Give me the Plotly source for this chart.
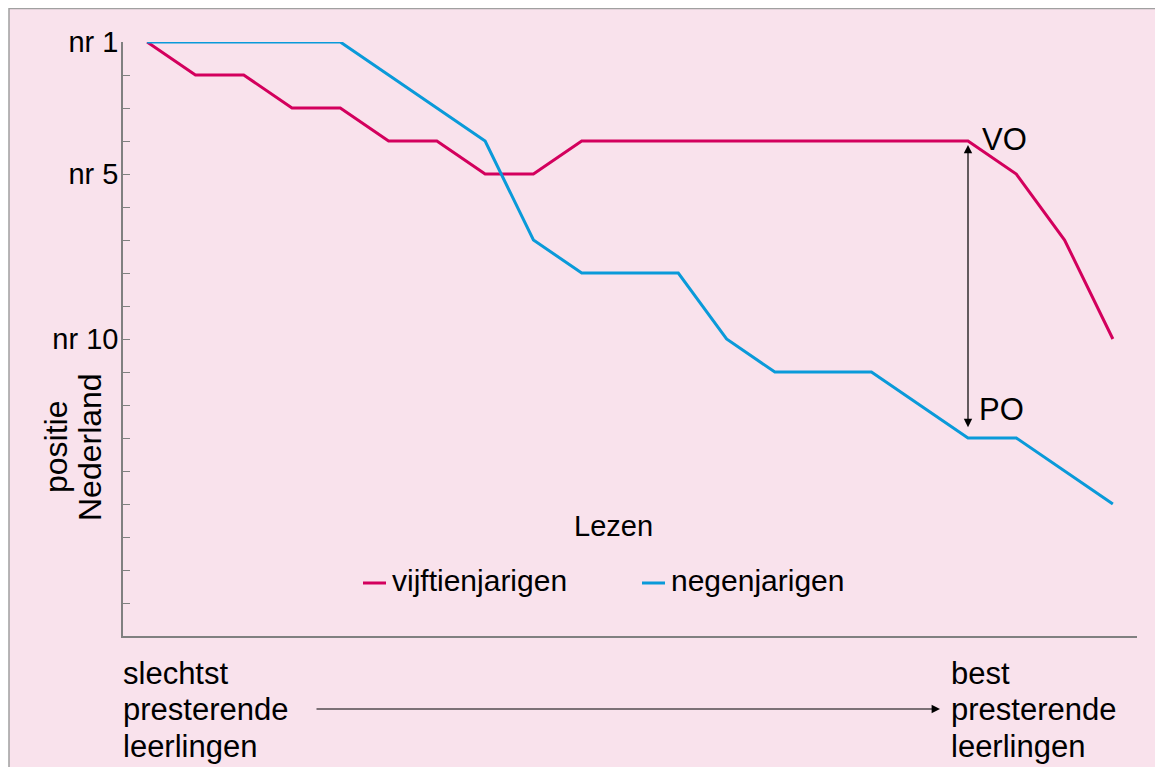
import plotly.graph_objects as go

# ---- data ----
steps = list(range(21))  # from worst to best performing pupils
vijftienjarigen = [1, 2, 2, 3, 3, 4, 4, 5, 5, 4, 4, 4, 4, 4, 4, 4, 4, 4, 5, 7, 10]
negenjarigen = [1, 1, 1, 1, 1, 2, 3, 4, 7, 8, 8, 8, 10, 11, 11, 11, 12, 13, 13, 14, 15]
tick_vals = list(range(1, 20))
tick_text = ["nr 1" if v == 1 else "nr 5" if v == 5 else "nr 10" if v == 10 else "" for v in tick_vals]

RED = "#d3005d"
BLUE = "#0a9ad9"
BG = "#f9e2ec"
FONT = "Liberation Sans, Arial, sans-serif"

fig = go.Figure()
fig.add_trace(go.Scatter(x=steps, y=vijftienjarigen, mode="lines", name="vijftienjarigen",
                         line=dict(color=RED, width=3), cliponaxis=False, showlegend=False))
fig.add_trace(go.Scatter(x=steps, y=negenjarigen, mode="lines", name="negenjarigen",
                         line=dict(color=BLUE, width=3), cliponaxis=False, showlegend=False))

OFF = 8  # page body margin
W, H = 1163 - OFF, 767 - OFF
L, R, T, B = 123 - OFF, 26, 42 - OFF, 767 - 636
pw, ph = W - L - R, H - T - B

def px(x):  # window x -> paper
    return (x - OFF - L) / pw

def py(y):  # window y -> paper
    return (H - B - (y - OFF)) / ph

shapes = [
    # pink frame
    dict(type="rect", xref="paper", yref="paper", x0=px(9), x1=px(1220), y0=py(820), y1=py(8.5),
         fillcolor=BG, line=dict(color="#a0a0a0", width=1.5), layer="below"),
    # legend samples
    dict(type="line", xref="paper", yref="paper", x0=px(363), x1=px(386), y0=py(583), y1=py(583),
         line=dict(color=RED, width=3)),
    dict(type="line", xref="paper", yref="paper", x0=px(642), x1=px(665), y0=py(583), y1=py(583),
         line=dict(color=BLUE, width=3)),
]

def txt(x, y, s, size, xanchor="left", angle=0):
    return dict(xref="paper", yref="paper", x=px(x), y=py(y), xanchor=xanchor, yanchor="middle",
                text=s, textangle=angle, showarrow=False,
                font=dict(size=size, color="black", family=FONT))

ann = []
ann.append(txt(390, 580, "vijftienjarigen", 30))
ann.append(txt(669, 580, "negenjarigen", 30))
ann.append(txt(613, 526, "Lezen", 29, xanchor="center"))
ann.append(txt(56, 447, "positie", 32, xanchor="center", angle=-90))
ann.append(txt(90, 447, "Nederland", 32, xanchor="center", angle=-90))
ann.append(dict(x=17.25, y=3.95, xanchor="left", yanchor="middle", text="VO", showarrow=False,
                font=dict(size=31, color="black", family=FONT)))
ann.append(dict(x=17.18, y=12.15, xanchor="left", yanchor="middle", text="PO", showarrow=False,
                font=dict(size=31, color="black", family=FONT)))
# double arrow VO-PO
ann.append(dict(x=17, y=4.12, ax=17, ay=12.72, axref="x", ayref="y", text="", showarrow=True,
                arrowside="end+start", arrowhead=2, arrowsize=1.4, arrowwidth=1.2, arrowcolor="black"))
# bottom arrow
ann.append(dict(xref="paper", yref="paper", x=px(940), y=py(709), ax=-625, ay=0, text="",
                showarrow=True, arrowhead=2, arrowsize=1.4, arrowwidth=1.2, arrowcolor="black"))
for i, line in enumerate(["slechtst", "presterende", "leerlingen"]):
    ann.append(txt(121, 673 + 36.5 * i, line, 31))
for i, line in enumerate(["best", "presterende", "leerlingen"]):
    ann.append(txt(949, 673 + 36.5 * i, line, 31))

fig.update_layout(
    width=W, height=H,
    margin=dict(l=L, r=R, t=T, b=B),
    paper_bgcolor="white",
    plot_bgcolor="rgba(0,0,0,0)",
    shapes=shapes,
    annotations=ann,
    font=dict(family=FONT, color="black"),
    xaxis=dict(range=[-0.5, 20.5], showgrid=False, zeroline=False, showticklabels=False,
               ticks="", showline=True, linecolor="#808080", linewidth=1.5, fixedrange=True),
    yaxis=dict(range=[19, 1], showgrid=False, zeroline=False, tickvals=tick_vals, ticktext=tick_text,
               ticks="inside", ticklen=7, tickcolor="#808080", tickwidth=1, ticklabelstandoff=-3,
               showline=True, linecolor="#808080", linewidth=1.5,
               tickfont=dict(size=29, color="black", family=FONT), fixedrange=True),
)

fig.write_html("out.html")
